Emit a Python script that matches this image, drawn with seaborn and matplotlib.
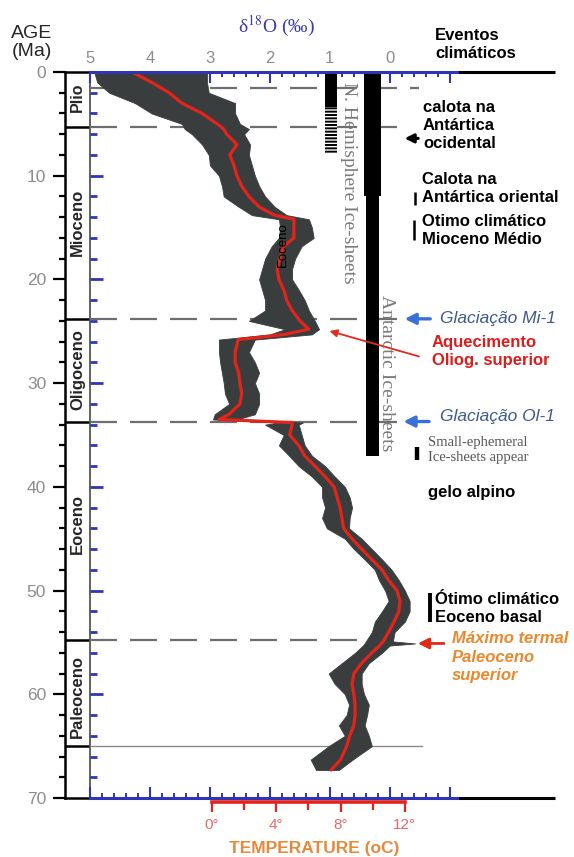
import numpy as np
import pandas as pd
import matplotlib
matplotlib.use("Agg")
import matplotlib.pyplot as plt
import seaborn as sns
from matplotlib.ticker import FixedLocator, MultipleLocator, FixedFormatter

# ---------------- data ----------------
age = [0, 1, 2, 3, 4, 5, 5.5, 6, 7, 8, 9, 10, 11, 12, 13, 13.8, 14.2, 15, 16, 16.8,
       18, 19, 20, 21, 22, 23, 24, 24.8, 25.3, 25.8, 27, 28, 29, 30, 31, 32, 33, 33.5,
       33.8, 34, 35, 36, 37, 38, 39, 40, 41, 42, 43, 44, 45, 46, 47, 48, 49, 50, 51,
       52, 53, 54, 54.9, 55.1, 55.3, 56, 57, 58, 59, 60, 61, 62, 63, 64, 65, 66.3, 67.3]
d18o_smooth = [4.30, 3.97, 3.68, 3.47, 3.13, 2.88, 2.77, 2.72, 2.55, 2.67, 2.60, 2.55,
               2.47, 2.35, 2.18, 1.93, 1.60, 1.60, 1.60, 1.77, 1.83, 1.88, 1.85, 1.77,
               1.72, 1.63, 1.50, 1.35, 1.75, 2.53, 2.58, 2.58, 2.52, 2.50, 2.47, 2.50,
               2.68, 2.85, 1.63, 1.63, 1.67, 1.52, 1.42, 1.25, 1.08, 0.93, 0.88, 0.83,
               0.80, 0.77, 0.63, 0.47, 0.30, 0.13, 0.02, -0.12, -0.17, -0.15, -0.07, 0.02,
               0.11, 0.14, 0.17, 0.30, 0.47, 0.60, 0.63, 0.60, 0.58, 0.58, 0.60, 0.67,
               0.72, 0.82, 0.98]
d18o_cloud_max = [4.93, 4.88, 4.68, 4.25, 3.97, 3.47, 3.42, 3.30, 3.13, 3.02, 3.00, 2.85,
                  2.80, 2.77, 2.52, 2.30, 1.85, 1.83, 1.85, 1.97, 2.08, 2.13, 2.18, 2.13,
                  2.08, 2.08, 2.35, 1.75, 2.00, 2.85, 2.85, 2.83, 2.80, 2.77, 2.75, 2.68,
                  2.92, 2.95, 1.85, 2.08, 1.77, 1.85, 1.68, 1.52, 1.30, 1.13, 1.13, 1.08,
                  1.13, 1.05, 0.75, 0.60, 0.42, 0.25, 0.18, 0.08, 0.02, 0.13, 0.25, 0.30,
                  0.40, 0.42, 0.45, 0.58, 0.80, 1.02, 0.92, 0.75, 0.68, 0.72, 0.85, 0.75,
                  1.02, 1.32, 1.23]
d18o_cloud_min = [3.05, 3.05, 3.02, 2.58, 2.58, 2.50, 2.35, 2.43, 2.33, 2.35, 2.30, 2.25,
                  2.18, 2.08, 1.92, 1.72, 1.35, 1.30, 1.27, 1.47, 1.58, 1.63, 1.63, 1.52,
                  1.42, 1.35, 1.25, 1.18, 1.30, 2.25, 2.35, 2.25, 2.18, 2.25, 2.18, 2.18,
                  2.25, 2.55, 1.45, 1.52, 1.47, 1.42, 1.30, 1.08, 0.92, 0.75, 0.67, 0.63,
                  0.67, 0.68, 0.47, 0.30, 0.13, -0.03, -0.15, -0.25, -0.33, -0.33, -0.25, -0.08,
                  -0.05, -0.42, 0.00, 0.13, 0.35, 0.47, 0.47, 0.43, 0.35, 0.38, 0.42, 0.35,
                  0.30, 0.62, 0.85]

epoch_names = ["Plio", "Mioceno", "Oligoceno", "Eoceno", "Paleoceno"]
epoch_bounds = [0, 5.3, 23.8, 33.7, 54.8, 65.0]
epoch_label_age = [2.4, 14.5, 28.7, 43.6, 60.2]

dash_ages = [1.5, 5.3, 23.8, 33.7, 54.8]
dash_end_d18o = [-0.48, -0.23, -0.15, -0.2, 0.45]
kpg_age = 65.0

nh_solid_age = [0, 3.4]
nh_hatch_age = [3.4, 7.8]
nh_d18o = [1.08, 0.88]
ant_upper_age = [0, 12]
ant_upper_d18o = [0.43, 0.15]
ant_lower_age = [12, 37]
ant_lower_d18o = [0.40, 0.18]

event_bar_d18o = [-0.42, -0.40, -0.45, -0.67]
event_bar_from = [11.6, 14.3, 36.2, 50.2]
event_bar_to = [12.8, 16.2, 37.4, 53.0]
event_bar_lw = [1.8, 1.8, 3.2, 2.8]

d18o_tick_values = [5, 4, 3, 2, 1, 0, -1]
d18o_tick_labels = ["5", "4", "3", "2", "1", "0", ""]
temp_tick_values = [0, 4, 8, 12]
temp_tick_labels = ["0°", "4°", "8°", "12°"]
age_tick_values = [0, 10, 20, 30, 40, 50, 60, 70]

# ---------------- style ----------------
sns.set_style("white")
plt.rcParams["font.family"] = ["Liberation Sans", "DejaVu Sans"]
plt.rcParams["mathtext.fontset"] = "stix"
plt.rcParams["lines.scale_dashes"] = False
plt.rcParams["hatch.linewidth"] = 1.4
plt.rcParams["hatch.color"] = "black"

BLUE = "#2f35b5"
RED = "#e3241b"
GRAY_LBL = "#8c8c8c"

W, H = 574, 857
def fx(x):
    return x / W
def fy(y):
    return 1 - y / H

fig = plt.figure(figsize=(W / 100, H / 100), dpi=100)
ax_ep = fig.add_axes([fx(65), fy(798), 25 / W, (798 - 72) / H])
ax = fig.add_axes([fx(90), fy(798), (457 - 90) / W, (798 - 72) / H])
ax.patch.set_alpha(0)

XL = (5.0, -1.12)

# ---------------- epoch column ----------------
ax_ep.set_ylim(70, 0)
ax_ep.set_xlim(0, 1)
ax_ep.set_xticks([])
ax_ep.yaxis.set_major_locator(FixedLocator(age_tick_values))
ax_ep.yaxis.set_minor_locator(MultipleLocator(2))
ax_ep.tick_params(axis="y", which="major", direction="out", length=8.6, width=1.6,
                  color="black", labelcolor=GRAY_LBL, labelsize=12.5, pad=5, left=True)
ax_ep.tick_params(axis="y", which="minor", direction="out", length=4.3, width=1.6,
                  color="black", left=True)
for s in ["left", "top", "bottom"]:
    ax_ep.spines[s].set_color("black")
    ax_ep.spines[s].set_linewidth(1.8)
ax_ep.spines["right"].set_color("#555555")
ax_ep.spines["right"].set_linewidth(1.3)
for b in epoch_bounds[1:]:
    ax_ep.axhline(b, color="black", lw=1.8)
for name, a in zip(epoch_names, epoch_label_age):
    ax_ep.text(0.5, a, name, rotation=90, ha="center", va="center",
               fontsize=12 if name != "Plio" else 11.5, fontweight="bold",
               transform=ax_ep.get_yaxis_transform())

# ---------------- main panel ----------------
df = pd.DataFrame({"age": age, "d18o": d18o_smooth,
                   "lo": d18o_cloud_min, "hi": d18o_cloud_max})

ax.fill_betweenx(df["age"], df["lo"], df["hi"], color="#3a3d3e", lw=0.6,
                 edgecolor="#3a3d3e", zorder=2)
sns.lineplot(data=df, x="d18o", y="age", orient="y", sort=False, estimator=None,
             color=RED, lw=2.3, ax=ax, zorder=3)

ax.fill_betweenx(nh_solid_age, nh_d18o[0], nh_d18o[1], color="black", lw=0, zorder=2)
ax.fill_betweenx(nh_hatch_age, nh_d18o[0], nh_d18o[1], facecolor="white",
                 edgecolor="black", hatch="-----", lw=0, zorder=2)
ax.fill_betweenx(ant_upper_age, ant_upper_d18o[0], ant_upper_d18o[1], color="black", lw=0, zorder=2)
ax.fill_betweenx(ant_lower_age, ant_lower_d18o[0], ant_lower_d18o[1], color="black", lw=0, zorder=2)

for a, xe in zip(dash_ages, dash_end_d18o):
    ax.plot([XL[0], xe], [a, a], color="#6e6e6e", lw=1.6, ls=(0, (19.4, 9.4)), zorder=1)
ax.plot([XL[0], -0.53], [kpg_age, kpg_age], color="#8a8a8a", lw=1.0, zorder=1)

for xd, a0, a1, lw in zip(event_bar_d18o, event_bar_from, event_bar_to, event_bar_lw):
    ax.plot([xd, xd], [a0, a1], color="black", lw=lw, clip_on=False,
            solid_capstyle="butt", zorder=4)

ax.set_xlim(*XL)
ax.set_ylim(70, 0)
ax.set_xlabel("")
ax.set_ylabel("")

ax.xaxis.set_major_locator(FixedLocator(d18o_tick_values))
ax.xaxis.set_major_formatter(FixedFormatter(d18o_tick_labels))
ax.xaxis.set_minor_locator(MultipleLocator(0.2))
ax.tick_params(axis="x", which="major", direction="in", length=8, width=1.5, color=BLUE,
               top=True, bottom=True, labeltop=True, labelbottom=False,
               labelcolor=GRAY_LBL, labelsize=12, pad=4)
ax.tick_params(axis="x", which="minor", direction="in", length=3.8, width=1.4, color=BLUE,
               top=True, bottom=True)
ax.yaxis.set_major_locator(FixedLocator(age_tick_values))
ax.yaxis.set_minor_locator(MultipleLocator(2))
ax.tick_params(axis="y", which="major", direction="in", length=9.5, width=2, color=BLUE,
               left=True, right=False, labelleft=False)
ax.tick_params(axis="y", which="minor", direction="in", length=5, width=2, color=BLUE,
               left=True, right=False)
ax.spines["left"].set_visible(False)
ax.spines["right"].set_visible(False)
for s in ["top", "bottom"]:
    ax.spines[s].set_color(BLUE)
    ax.spines[s].set_linewidth(2.2)
    ax.spines[s].set_zorder(5)

ext = (555 - 457) / (457 - 90)
for yy in [0, 1]:
    ax.plot([1, 1 + ext], [yy, yy], transform=ax.transAxes, clip_on=False,
            color="black", lw=2.2, solid_capstyle="butt")

# temperature axis
def d2t(d):
    return (2.967 - np.asarray(d)) * 3.730
def t2d(t):
    return 2.967 - np.asarray(t) / 3.730
sec = ax.secondary_xaxis(-0.006, functions=(d2t, t2d))
sec.xaxis.set_major_locator(FixedLocator(temp_tick_values))
sec.xaxis.set_major_formatter(FixedFormatter(temp_tick_labels))
sec.xaxis.set_minor_locator(FixedLocator([2, 6, 10]))
sec.tick_params(which="major", direction="out", length=7.5, width=1.6, color=RED,
                labelcolor="#e06a6a", labelsize=11, pad=3.5)
sec.tick_params(which="minor", direction="out", length=5.5, width=1.6, color=RED)
sec.spines["bottom"].set_color(RED)
sec.spines["bottom"].set_linewidth(2.6)
sec.spines["bottom"].set_bounds(0, 12)

# arrows
ax.annotate("", xy=(-0.2, 23.8), xytext=(-0.72, 23.8), annotation_clip=False,
            arrowprops=dict(arrowstyle="-|>", color="#3a6fd8", lw=2.4, mutation_scale=16))
ax.annotate("", xy=(-0.18, 33.7), xytext=(-0.7, 33.7), annotation_clip=False,
            arrowprops=dict(arrowstyle="-|>", color="#3a6fd8", lw=2.4, mutation_scale=16))
ax.annotate("", xy=(-0.2, 6.4), xytext=(-0.52, 6.4), annotation_clip=False,
            arrowprops=dict(arrowstyle="-|>", color="black", lw=2.2, mutation_scale=13))
ax.annotate("", xy=(1.05, 24.9), xytext=(-0.53, 27.5), annotation_clip=False,
            arrowprops=dict(arrowstyle="-|>", color="#e02a1a", lw=1.3, mutation_scale=11))
ax.annotate("", xy=(-0.42, 55.1), xytext=(-0.95, 55.1), annotation_clip=False,
            arrowprops=dict(arrowstyle="-|>", color="#e02a1a", lw=2.0, mutation_scale=16))

# ---------------- texts ----------------
SANS = ["Liberation Sans", "DejaVu Sans"]
SERIF = ["Liberation Serif", "DejaVu Serif"]
fig.text(fx(32), fy(33), "AGE", fontsize=14, ha="center", va="center", family=SANS)
fig.text(fx(32), fy(51), "(Ma)", fontsize=14, ha="center", va="center", family=SANS)
fig.text(fx(276), fy(26), "δ$^{18}$O (‰)", fontsize=14, color="#3b3bab",
         ha="center", va="center", family=SERIF)

def label(x, y, s, **kw):
    base = dict(fontsize=12, fontweight="bold", ha="left", va="center",
                linespacing=1.25, family=SANS, color="black")
    base.update(kw)
    fig.text(fx(x), fy(y), s, **base)

label(435, 44, "Eventos\nclimáticos")
label(423, 125, "calota na\nAntártica\nocidental")
label(422, 189, "Calota na\nAntártica oriental")
label(422, 231, "Otimo climático\nMioceno Médio")
label(440, 318, "Glaciação Mi-1", fontweight="normal", style="italic",
      color="#3d5a8a", fontsize=12.5)
label(432, 351, "Aquecimento\nOliog. superior", color="#dd1c1c")
label(440, 417, "Glaciação Ol-1", fontweight="normal", style="italic",
      color="#3d5a8a", fontsize=12.5)
label(428, 450, "Small-ephemeral\nIce-sheets appear", fontweight="normal",
      family=SERIF, color="#555555", fontsize=10.5, linespacing=1.2)
label(428, 493, "gelo alpino")
label(435, 608, "Ótimo climático\nEoceno basal")
label(452, 657, "Máximo termal\nPaleoceno\nsuperior", style="italic",
      color="#e8892e", linespacing=1.3)

fig.text(fx(348), fy(183), "N. Hemisphere Ice-sheets", rotation=-90, fontsize=14,
         color="#7a7a7a", ha="center", va="center", family=SERIF)
fig.text(fx(387), fy(373), "Antarctic Ice-sheets", rotation=-90, fontsize=14,
         color="#7a7a7a", ha="center", va="center", family=SERIF)
fig.text(fx(283), fy(245), "Eoceno", rotation=90, fontsize=9.5, color="black",
         ha="center", va="center", family=SANS, zorder=10)
fig.text(fx(314), fy(848), "TEMPERATURE (oC)", fontsize=12.5, fontweight="bold",
         color="#e58a3a", ha="center", va="center", family=SANS)

fig.savefig("out.png", dpi=100)
